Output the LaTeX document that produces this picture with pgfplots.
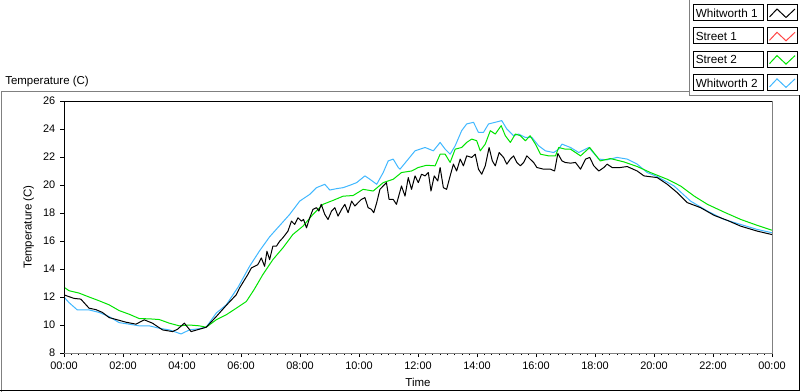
\documentclass[border=0pt]{standalone}
\usepackage{pgfplots}
\usepackage{pgfplotstable}
\pgfplotsset{compat=1.18}
\usepackage{fontspec}
\setmainfont{Liberation Sans}
\definecolor{wblue}{RGB}{64,184,255}
\definecolor{sgreen}{RGB}{0,228,0}
\definecolor{sred}{RGB}{255,70,70}
\definecolor{fgray}{RGB}{128,128,128}

\pgfplotstableread{
h T
0 12.15
0.34 11.9
0.57 11.85
0.85 11.2
1.08 11.1
1.3 10.9
1.53 10.53
1.81 10.37
2.1 10.2
2.44 10.06
2.72 10.37
3.0 10.13
3.34 9.65
3.68 9.53
3.85 9.7
4.08 10.13
4.31 9.53
4.59 9.7
4.82 9.84
5.16 10.6
5.5 11.4
5.84 12.16
5.95 12.64
6.23 13.6
6.35 14.07
6.57 14.31
6.69 14.79
6.8 14.19
6.88 15.27
6.97 14.67
7.08 15.63
7.2 15.63
7.31 15.98
7.42 16.23
7.59 16.7
7.71 17.42
7.82 17.18
7.93 17.66
8.05 17.42
8.12 17.54
8.22 16.94
8.33 17.66
8.44 18.26
8.56 18.38
8.64 18.14
8.72 18.62
8.84 17.9
8.95 17.54
9.07 18.14
9.18 18.38
9.29 17.78
9.41 18.26
9.52 18.62
9.63 18.02
9.75 18.85
9.86 18.5
9.97 18.74
10.08 18.97
10.2 19.1
10.31 18.38
10.42 18.26
10.5 18.02
10.6 18.74
10.71 19.69
10.82 19.93
10.93 20.17
11.02 18.97
11.16 18.97
11.27 18.62
11.44 19.93
11.56 19.21
11.67 20.53
11.78 19.69
11.9 20.65
12.01 20.17
12.12 20.77
12.24 20.65
12.35 20.89
12.44 19.57
12.55 20.65
12.67 20.29
12.75 21.25
12.86 19.81
12.97 19.69
13.09 20.65
13.2 21.49
13.31 21.0
13.43 21.85
13.54 21.37
13.65 22.08
13.82 21.97
13.94 22.2
14.05 21.13
14.16 20.77
14.28 21.37
14.41 22.68
14.52 21.72
14.62 21.37
14.75 22.32
14.9 21.97
15.01 21.49
15.13 21.85
15.24 22.08
15.35 21.61
15.47 21.37
15.58 21.61
15.69 22.08
15.8 21.85
15.92 21.61
16.03 21.25
16.26 21.13
16.49 21.13
16.63 21.0
16.74 22.25
16.88 21.72
16.99 21.61
17.17 21.56
17.34 21.61
17.51 21.13
17.68 21.85
17.82 21.97
17.96 21.37
18.13 21.0
18.3 21.25
18.41 21.49
18.58 21.25
18.86 21.25
19.09 21.32
19.43 21.0
19.66 20.65
20.11 20.53
20.45 20.05
20.79 19.45
21.13 18.74
21.58 18.38
22.04 17.83
22.49 17.47
22.94 17.06
23.51 16.7
24 16.46
}\whitworthone

\pgfplotstableread{
h T
0 12.7
0.17 12.45
0.51 12.28
0.85 12.0
1.19 11.73
1.53 11.44
1.87 11.03
2.21 10.77
2.55 10.46
2.89 10.44
3.23 10.39
3.57 10.13
3.91 9.94
4.25 10.0
4.59 9.94
4.82 9.84
5.16 10.37
5.5 10.73
5.84 11.2
6.18 11.68
6.45 12.55
6.74 13.6
7.08 14.67
7.42 15.51
7.76 16.47
8.1 17.06
8.44 17.9
8.78 18.62
9.12 18.9
9.46 19.2
9.8 19.25
10.14 19.69
10.48 19.57
10.82 20.17
11.16 20.41
11.44 20.89
11.78 21.0
12.01 21.25
12.29 21.41
12.58 21.37
12.75 22.2
12.92 22.2
13.09 21.61
13.26 22.56
13.48 22.68
13.65 23.04
13.82 23.28
13.99 23.16
14.11 22.44
14.28 22.92
14.45 23.88
14.62 23.64
14.82 24.24
14.96 23.52
15.13 23.04
15.3 23.64
15.47 23.52
15.64 23.16
15.8 23.52
15.98 22.92
16.15 22.2
16.43 22.08
16.66 22.08
16.77 22.68
16.99 22.56
17.17 22.56
17.51 22.08
17.82 22.68
18.18 21.72
18.52 21.89
18.98 21.65
19.43 21.32
19.88 20.89
20.45 20.41
20.9 19.93
21.36 19.21
21.81 18.62
22.38 18.06
22.94 17.54
23.51 17.11
24 16.77
}\streettwo

\pgfplotstableread{
h T
0 12.0
0.17 11.6
0.45 11.08
0.85 11.08
1.19 10.9
1.53 10.6
1.87 10.17
2.21 10.06
2.55 9.94
2.89 9.94
3.23 9.77
3.57 9.65
3.97 9.36
4.25 9.65
4.59 9.74
4.82 9.84
5.16 10.85
5.5 11.44
5.9 12.7
6.29 14.19
6.63 15.3
6.97 16.3
7.31 17.1
7.65 17.9
7.99 18.85
8.33 19.33
8.56 19.81
8.84 20.05
9.01 19.64
9.24 19.74
9.46 19.81
9.69 19.98
9.92 20.17
10.2 20.65
10.37 20.41
10.6 20.05
10.82 20.89
10.99 21.72
11.16 21.85
11.33 21.25
11.39 21.13
11.67 21.85
11.9 22.44
12.24 22.68
12.52 22.44
12.75 23.04
12.92 22.56
13.09 22.2
13.26 22.8
13.48 23.88
13.65 24.36
13.88 24.48
14.05 23.76
14.22 23.76
14.39 24.36
14.62 24.48
14.84 24.6
15.01 24.0
15.24 23.52
15.41 23.64
15.64 23.4
15.86 23.4
16.09 22.8
16.32 22.44
16.6 22.32
16.77 22.56
16.88 22.92
17.17 22.68
17.45 22.32
17.79 22.68
18.13 21.85
18.41 21.8
18.75 21.97
19.09 21.85
19.43 21.49
19.77 20.89
20.11 20.6
20.68 19.93
21.24 18.85
21.81 18.14
22.38 17.54
22.94 17.18
23.51 16.82
24 16.59
}\whitworthtwo

\begin{document}
\begin{tikzpicture}
\begin{scope}[x=0.75pt,y=-0.75pt]
\useasboundingbox (0,0) rectangle (800,392);
\fill[white] (0,0) rectangle (800,392);
% outer frame
\draw[fgray,line width=0.75pt] (1,392) -- (1,91.5) -- (689,91.5);
\draw[fgray,line width=0.75pt] (689,0) -- (689,95.5) -- (800,95.5);
\draw[black,line width=0.75pt] (0,390.5) -- (799.5,390.5) -- (799.5,95.5);
% chart caption
\node[anchor=west,inner sep=0pt,font=\fontsize{8.6}{10}\selectfont] at (5,81.5) {Temperature (C)};
% legend
\foreach \i/\name/\col in {0/Whitworth 1/black,1/Street 1/sred,2/Street 2/sgreen,3/Whitworth 2/wblue}{
  \pgfmathsetmacro\t{4.5+23.3*\i}
  \draw[black,line width=0.75pt] (693,\t) rectangle (763,\t+16);
  \node[anchor=west,inner sep=0pt,font=\fontsize{8.8}{10}\selectfont] at (695.5,\t+8.5) {\name};
  \draw[black,line width=0.75pt] (767,\t) rectangle (797,\t+16);
  \draw[\col,line width=0.75pt] (769.5,\t+12.5) -- (777,\t+4.5) -- (786,\t+13) -- (795,\t+4.5);
}
\end{scope}
\begin{axis}[
  at={(48pt,-264.75pt)}, anchor=south west,
  scale only axis, width=531pt, height=189pt,
  xmin=0, xmax=24, ymin=8, ymax=26,
  axis line style={draw=none},
  xtick={0,2,...,24},
  xticklabels={00:00,02:00,04:00,06:00,08:00,10:00,12:00,14:00,16:00,18:00,20:00,22:00,00:00},
  minor x tick num=7,
  ytick={8,10,...,26},
  tick align=outside, tick pos=left,
  major tick length=3pt, minor tick length=1.6pt,
  tick style={black,line width=0.75pt},
  ticklabel style={font=\fontsize{8.2}{10}\selectfont},
  /pgf/number format/assume math mode=true,
  xlabel={Time}, ylabel={Temperature (C)},
  label style={font=\fontsize{8.6}{10}\selectfont},
  clip mode=individual,
  every axis plot/.append style={line width=0.75pt, line join=round},
]
\addplot[wblue] table[x=h,y=T] {\whitworthtwo};
\addplot[sgreen] table[x=h,y=T] {\streettwo};
\addplot[black] table[x=h,y=T] {\whitworthone};
\draw[fgray,line width=0.75pt] (rel axis cs:0,0) -- (rel axis cs:1,0) -- (rel axis cs:1,1);
\draw[black,line width=0.75pt] (rel axis cs:0,0) -- (rel axis cs:0,1) -- (rel axis cs:1,1);
\end{axis}
\end{tikzpicture}
\end{document}
